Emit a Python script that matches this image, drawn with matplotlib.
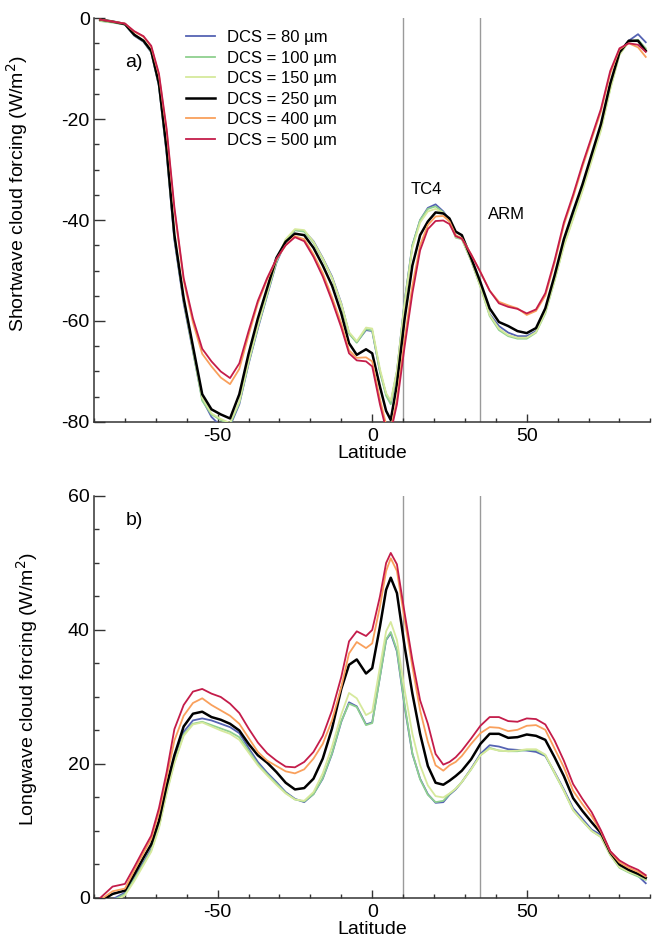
import numpy as np
import matplotlib
matplotlib.use("Agg")
import matplotlib.pyplot as plt
from matplotlib.ticker import MultipleLocator

plt.rcParams["font.family"] = ["Liberation Sans", "DejaVu Sans"]
plt.rcParams["axes.unicode_minus"] = False

# --- data ---
LAT = [-88, -84, -80, -77, -74, -71.5, -69, -66.5, -64, -61, -58, -55, -52, -49, -46, -43,
       -40, -37, -34, -31, -28, -25, -22, -19, -16, -13, -10, -7.5, -5, -2, 0, 2.5,
       4.5, 6, 8, 10.5, 13, 15.5, 18, 20.5, 23, 25, 27, 29, 32, 35, 38, 41,
       44, 47, 50, 53, 56, 59, 62, 65, 68, 71, 74, 77, 80, 83, 86, 88.5]

LABELS = ["DCS = 80 \u00b5m", "DCS = 100 \u00b5m", "DCS = 150 \u00b5m",
          "DCS = 250 \u00b5m", "DCS = 400 \u00b5m", "DCS = 500 \u00b5m"]
COLORS = ["#5563b3", "#8fd08f", "#d6e99c", "#000000", "#f9a05c", "#c41c4a"]
WIDTHS = [1.3, 1.3, 1.3, 1.8, 1.3, 1.3]

# shortwave cloud forcing (W/m2)
SW_80 = [-0.5, -0.8, -1.3, -3.5, -4.7, -6.8, -13.5, -27, -44, -56.5, -66, -75.5, -79, -80.8, -80.8, -76.5,
         -68.5, -61.5, -55, -48.5, -44.3, -42, -42.2, -44.2, -47.5, -51.2, -56.5, -62.4, -64.2, -61.8, -62, -70,
         -74.5, -76.2, -70, -56, -45, -40, -37.6, -36.9, -38.3, -40, -43.2, -43.6, -48, -53, -58.6, -61,
         -62.3, -63, -63, -62, -58, -51.5, -44.5, -39, -33.5, -27.5, -21.5, -13.5, -7, -4.5, -3.2, -4.8]
SW_100 = [-0.6, -0.9, -1.3, -3.4, -4.6, -6.7, -13.3, -26.5, -43.5, -56, -65.8, -75.8, -78.5, -79.6, -80.5, -76.2,
          -68.3, -61.2, -54.8, -48.3, -44, -42, -42.3, -44.5, -47.8, -51.5, -56.8, -62.5, -64.3, -61.6, -61.9, -70,
          -74.8, -76.5, -70.2, -56.2, -45, -40, -37.8, -37.3, -38.5, -40.2, -43.5, -43.8, -48, -53.2, -59, -61.8,
          -63, -63.5, -63.5, -62.3, -58.5, -52, -45, -39.5, -34, -28, -22, -14, -7.2, -4.7, -4.3, -6]
SW_150 = [-0.5, -0.8, -1.2, -3.3, -4.5, -6.6, -13, -26.2, -43, -55.8, -65.5, -75.2, -78.3, -79.4, -80.2, -76,
          -68, -61, -54.5, -48, -43.8, -41.8, -42, -44.3, -47.6, -51.4, -56.6, -62.2, -64, -61.3, -61.5, -69.5,
          -74.3, -75.8, -69.8, -56.5, -45.5, -40.5, -38.3, -37.8, -38.6, -40.2, -43.3, -43.7, -48, -53.2, -58.8, -61.5,
          -62.8, -63.3, -63.3, -62.2, -58.3, -52, -45.2, -39.8, -34.3, -28.3, -22.3, -14.2, -7.3, -4.6, -4.6, -6.2]
SW_250 = [-0.3, -0.7, -1.2, -3.3, -4.5, -6.5, -13, -26, -43, -55.5, -65, -74.5, -77.5, -78.5, -79.3, -74.5,
          -66.5, -59.5, -53.5, -47.5, -44.3, -42.7, -43, -45.5, -49, -53, -58.5, -64.4, -66.7, -65.6, -66.4, -73,
          -77.8, -79.6, -72.5, -59.5, -49, -43, -40.3, -38.5, -38.7, -39.7, -42.3, -43, -47.5, -52.3, -57.5, -60.2,
          -61, -62, -62.4, -61.4, -57.5, -51, -43.8, -38.3, -33, -27, -21, -13, -6.8, -4.5, -4.5, -6.5]
SW_400 = [-0.3, -0.7, -1.1, -2.7, -3.7, -5.7, -11.3, -22.5, -38, -52, -60.3, -66.5, -69, -71.2, -72.5, -69.5,
          -62.8, -56.5, -51.8, -47.8, -45, -43.2, -43.8, -46.8, -50.5, -55.3, -60.5, -65.8, -67.3, -67.2, -68, -75.5,
          -80.5, -81.5, -75.5, -63.5, -53, -45, -41, -39.3, -39.2, -40.3, -43, -43.6, -46.8, -50.3, -54, -56.2,
          -56.9, -57.5, -58.8, -58, -55, -48.5, -41, -35.5, -29.5, -24, -18.5, -11, -6.2, -5, -5.8, -7.7]
SW_500 = [-0.3, -0.7, -1.1, -2.6, -3.6, -5.5, -11, -22, -37.5, -51.5, -59.5, -65.5, -68, -70, -71.3, -68.4,
          -62, -56, -51.5, -47.7, -45, -43.4, -44.2, -47.3, -51.2, -56, -61.3, -66.4, -67.8, -68, -69, -76.5,
          -81.5, -82, -76.5, -65, -54.5, -46, -41.8, -40.2, -40.1, -40.8, -43.2, -43.7, -46.8, -50.3, -54, -56.5,
          -57.2, -57.6, -58.5, -57.7, -54.5, -48, -40.5, -35, -29, -23.5, -18, -10.5, -6, -5, -5.3, -6.7]

# longwave cloud forcing (W/m2)
LW_80 = [-1, -0.2, 0.8, 3, 5.3, 7.3, 10.8, 16, 20.6, 24.8, 26.5, 26.8, 26.5, 26, 25.5, 24.6,
         22.4, 20.3, 18.7, 17.3, 15.8, 14.8, 14.3, 15.5, 17.8, 21.5, 26.3, 29.2, 28.6, 25.9, 26.2, 33,
         38.5, 39.5, 36.8, 28.5, 21.5, 17.8, 15.5, 14.2, 14.3, 15.4, 16.2, 17.3, 19.3, 21.5, 22.8, 22.6,
         22.2, 22.1, 22, 21.8, 21.2, 18.8, 16.2, 13.4, 11.8, 10.2, 9.4, 6.6, 4.7, 4, 3.3, 2.2]
LW_100 = [-1.2, -0.4, 0.6, 2.8, 5.1, 7.1, 10.6, 15.8, 20.3, 24.4, 26, 26.3, 25.8, 25.3, 24.8, 24,
          22, 20, 18.5, 17.1, 15.7, 14.7, 14.4, 15.5, 17.9, 21.6, 26.4, 29, 28.5, 25.8, 26.1, 33,
          38.6, 39.7, 37, 28.8, 21.6, 17.7, 15.4, 14.3, 14.5, 15.5, 16.3, 17.3, 19.2, 21.3, 22.4, 22,
          21.9, 21.9, 22.1, 22.1, 21.3, 18.6, 16, 13.1, 11.5, 10, 9.1, 6.4, 4.5, 3.8, 3.2, 2.7]
LW_150 = [-1.5, -0.7, 0.4, 2.5, 4.9, 6.9, 10.4, 15.6, 20.1, 24.2, 25.9, 26.2, 25.6, 25, 24.5, 23.6,
          21.7, 19.8, 18.3, 16.9, 15.6, 14.7, 14.5, 15.8, 18.6, 22.6, 27.4, 30.6, 29.8, 27.3, 27.8, 34.5,
          39.8, 41.2, 38.5, 31, 24.5, 19.8, 16.8, 15.2, 15, 15.6, 16.3, 17.3, 19.2, 21.3, 22.3, 22,
          21.9, 22, 22.2, 22.2, 21.4, 18.7, 16, 13.1, 11.5, 10, 9.1, 6.4, 4.6, 3.9, 3.4, 2.8]
LW_250 = [-0.5, 0.6, 1.1, 3.5, 6, 8, 11.5, 16.8, 21.3, 25.6, 27.5, 27.8, 27, 26.6, 26, 25,
          23, 21.3, 20.2, 18.8, 17.2, 16.2, 16.4, 17.8, 20.8, 25.3, 31.2, 34.8, 35.6, 33.5, 34.3, 40.5,
          46, 47.8, 45.5, 37.5, 30.5, 24.5, 19.7, 17.2, 16.9, 17.5, 18.2, 19, 20.7, 23, 24.5, 24.5,
          23.9, 24, 24.4, 24.2, 23.6, 21, 18.2, 14.9, 13, 11.3, 9.7, 6.8, 5, 4.2, 3.6, 3]
LW_400 = [-0.3, 1, 1.4, 4.1, 6.7, 8.8, 12.7, 18, 23.5, 27.2, 29.1, 29.8, 28.8, 28, 27.2, 26,
          23.9, 21.8, 20.5, 19.7, 18.9, 18.6, 19.2, 20.8, 23, 26.5, 31.5, 36.5, 38.2, 37.3, 38, 43.5,
          48.8, 50.7, 48.8, 41.5, 34.5, 28, 23.3, 19.8, 19, 19.8, 20.3, 21.2, 23, 24.6, 25.5, 25.4,
          24.9, 25.1, 25.7, 25.8, 25.1, 22.3, 19.5, 16, 14, 12.2, 9.9, 6.9, 5.3, 4.5, 3.9, 3.2]
LW_500 = [0, 1.7, 2.1, 4.6, 7.2, 9.3, 13.4, 18.8, 25.2, 28.8, 30.8, 31.2, 30.5, 30, 29, 27.6,
          25.3, 23.2, 21.6, 20.5, 19.6, 19.5, 20.3, 21.8, 24.2, 28, 33, 38.3, 39.8, 39.1, 40, 45,
          50, 51.5, 49.8, 42.5, 35.5, 29.5, 26, 21.5, 19.9, 20.3, 21, 22, 23.8, 25.7, 27, 27,
          26.4, 26.3, 26.8, 26.7, 25.9, 23.5, 20.5, 17, 14.8, 12.8, 10.1, 7, 5.6, 4.8, 4.2, 3.4]

SW = [SW_80, SW_100, SW_150, SW_250, SW_400, SW_500]
LW = [LW_80, LW_100, LW_150, LW_250, LW_400, LW_500]

TC4_LAT = 10
ARM_LAT = 35

SPINE = "#333333"
FS = 14


def style_axis(ax, ylim, ymajor):
    ax.set_xlim(-90, 90)
    ax.set_ylim(*ylim)
    for side in ("top", "right"):
        ax.spines[side].set_visible(False)
    for side in ("left", "bottom"):
        ax.spines[side].set_color(SPINE)
        ax.spines[side].set_linewidth(1.1)
    ax.xaxis.set_major_locator(MultipleLocator(50))
    ax.xaxis.set_minor_locator(MultipleLocator(10))
    ax.yaxis.set_major_locator(MultipleLocator(ymajor))
    ax.yaxis.set_minor_locator(MultipleLocator(5))
    ax.tick_params(axis="x", which="major", direction="in", length=6, width=1.0,
                   color=SPINE, labelsize=FS, pad=4)
    ax.tick_params(axis="x", which="minor", direction="in", length=3, width=1.0, color=SPINE)
    ax.tick_params(axis="y", which="major", direction="in", length=8, width=1.0,
                   color=SPINE, labelsize=FS, pad=3)
    ax.tick_params(axis="y", which="minor", direction="in", length=3.6, width=1.0, color=SPINE)
    ax.set_xlabel("Latitude", fontsize=FS, labelpad=0.5)
    for lat in (TC4_LAT, ARM_LAT):
        ax.axvline(lat, color="#9a9a9a", lw=1.0, zorder=1)


fig = plt.figure(figsize=(6.53, 9.39), dpi=100)
ax1 = fig.add_axes([0.144, 0.5506, 0.852, 0.4302])
ax2 = fig.add_axes([0.144, 0.0437, 0.852, 0.4281])

for vals, lab, col, lw in zip(SW, LABELS, COLORS, WIDTHS):
    ax1.plot(LAT, vals, color=col, lw=lw, label=lab, zorder=3)
for vals, lab, col, lw in zip(LW, LABELS, COLORS, WIDTHS):
    ax2.plot(LAT, vals, color=col, lw=lw, label=lab, zorder=3)

style_axis(ax1, (-80, 0), 20)
style_axis(ax2, (0, 60), 20)

ax1.set_ylabel("Shortwave cloud forcing (W/m$^2$)", fontsize=FS)
ax1.yaxis.set_label_coords(-0.115, 0.565)
ax2.set_ylabel("Longwave cloud forcing (W/m$^2$)", fontsize=FS)
ax2.yaxis.set_label_coords(-0.097, 0.52)

ax1.text(0.056, 0.889, "a)", transform=ax1.transAxes, fontsize=FS, va="center")
ax2.text(0.056, 0.94, "b)", transform=ax2.transAxes, fontsize=FS, va="center")

ax1.text(12.3, -34, "TC4", fontsize=12, va="center")
ax1.text(37.5, -39, "ARM", fontsize=12, va="center")

ax1.legend(loc="upper left", bbox_to_anchor=(0.165, 0.97), frameon=False, fontsize=12,
           handlelength=1.75, handletextpad=0.75, labelspacing=0.33, borderpad=0,
           borderaxespad=0)

fig.savefig("out.png", dpi=100)
